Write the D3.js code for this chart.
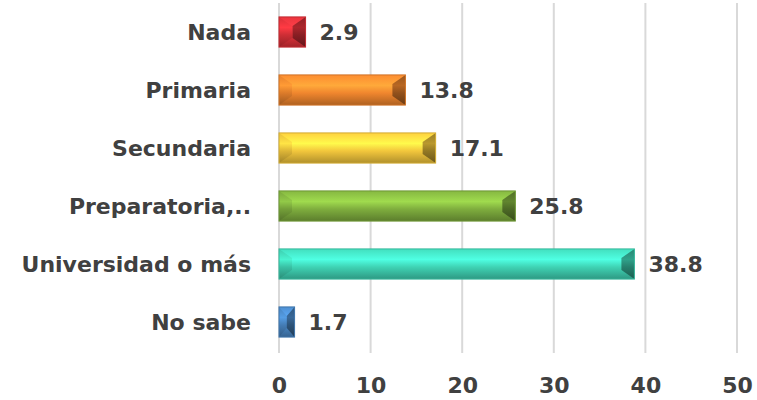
<!DOCTYPE html>
<html><head><meta charset="utf-8">
<script src="https://cdn.jsdelivr.net/npm/d3@7/dist/d3.min.js"></script>
<style>body{margin:0;background:#fff}svg{display:block}</style>
</head><body>
<svg id="chart" width="757" height="400"></svg>
<script>
const categories = ["Nada","Primaria","Secundaria","Preparatoria,..","Universidad o más","No sabe"];
const values = [2.9,13.8,17.1,25.8,38.8,1.7];
const colors = ["#e0323a","#f0862e","#f2c63c","#7fae3e","#3fd3b4","#4a88c6"];
const tickValues = [0,10,20,30,40,50];

const svg = d3.select("#chart");
const x = d3.scaleLinear().domain([0,50]).range([279,737]);
const y = d3.scaleBand().domain(categories).range([3,351]).paddingInner(0.48).paddingOuter(0.24);
const font = "'DejaVu Sans',sans-serif";
const fs = 22;

const defs = svg.append("defs");
function grad(id, base, k){
  const g = defs.append("linearGradient").attr("id",id).attr("x1",0).attr("y1",0).attr("x2",0).attr("y2",1);
  const c = base.darker(k);
  g.append("stop").attr("offset","0%").attr("stop-color",c.brighter(0.15));
  g.append("stop").attr("offset","35%").attr("stop-color",c.brighter(0.65));
  g.append("stop").attr("offset","60%").attr("stop-color",c);
  g.append("stop").attr("offset","100%").attr("stop-color",c.darker(0.9));
}
colors.forEach((c,i)=>{
  const base = d3.color(c);
  grad("g"+i, base, 0);
  grad("l"+i, base, 0.25);
  grad("r"+i, base, 1.4);
});

// gridlines
svg.append("g").selectAll("line").data(tickValues).join("line")
  .attr("x1",d=>x(d)).attr("x2",d=>x(d)).attr("y1",3).attr("y2",353)
  .attr("stroke","#d9d9d9").attr("stroke-width",2);

// axis
const axis = d3.axisBottom(x).tickValues(tickValues).tickSize(0).tickPadding(0);
const ax = svg.append("g").attr("transform","translate(0,385)").call(axis);
ax.select(".domain").remove();
ax.selectAll("text").attr("font-family",font).attr("font-weight","bold").attr("font-size",fs)
  .attr("fill","#404040").attr("dy","0.35em").attr("y",0);

// bars
const bars = svg.append("g");
categories.forEach((cat,i)=>{
  const x0 = x(0), x1 = x(values[i]), y0 = y(cat), h = y.bandwidth(), y1 = y0+h;
  const w = x1-x0;
  const b = Math.min(13, w/2), bv = 9;
  const base = d3.color(colors[i]);
  const gg = bars.append("g");
  gg.append("rect").attr("x",x0).attr("y",y0).attr("width",w).attr("height",h).attr("fill",`url(#g${i})`);
  gg.append("path").attr("d",`M${x0},${y0}L${x0+b},${y0+bv}L${x0+b},${y1-bv}L${x0},${y1}Z`)
    .attr("fill",`url(#l${i})`);
  gg.append("path").attr("d",`M${x1},${y0}L${x1-b},${y0+bv}L${x1-b},${y1-bv}L${x1},${y1}Z`)
    .attr("fill",`url(#r${i})`);
  gg.append("rect").attr("x",x0).attr("y",y0).attr("width",w).attr("height",h)
    .attr("fill","none").attr("stroke",base.darker(0.4)).attr("stroke-width",1);
});

// value labels
svg.append("g").selectAll("text").data(values).join("text")
  .attr("x",d=>x(d)+14).attr("y",(d,i)=>y(categories[i])+y.bandwidth()/2)
  .attr("dy","0.35em").attr("font-family",font).attr("font-weight","bold").attr("font-size",fs)
  .attr("fill","#404040").text(d=>d.toFixed(1));

// category labels
svg.append("g").selectAll("text").data(categories).join("text")
  .attr("x",251).attr("y",d=>y(d)+y.bandwidth()/2).attr("dy","0.35em")
  .attr("text-anchor","end").attr("font-family",font).attr("font-weight","bold").attr("font-size",fs)
  .attr("fill","#404040").text(d=>d);
</script>
</body></html>
